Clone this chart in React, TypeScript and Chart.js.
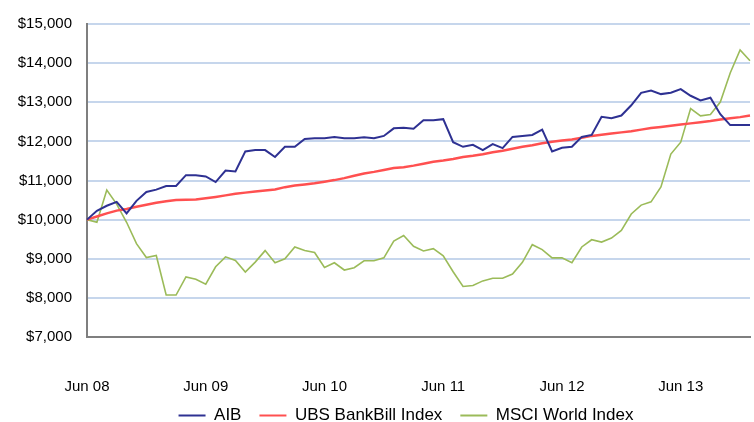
import React, { useEffect, useRef } from "react";
import { Chart, registerables } from "chart.js";

Chart.register(...registerables);

const MONTHS = ["Jan", "Feb", "Mar", "Apr", "May", "Jun", "Jul", "Aug", "Sep", "Oct", "Nov", "Dec"];
// Monthly categories Jun 08 .. Jan 14
const categories: string[] = [];
for (let k = 0; k < 68; k++) {
  const m = (5 + k) % 12;
  const y = 8 + Math.floor((5 + k) / 12);
  categories.push(`${MONTHS[m]} ${String(y).padStart(2, "0")}`);
}

const aib = [
  10000, 10227, 10354, 10455, 10160, 10480, 10707, 10766, 10859, 10859,
  11137, 11137, 11103, 10960, 11255, 11230, 11743, 11777, 11777, 11600,
  11861, 11861, 12063, 12080, 12080, 12114, 12080, 12080, 12105, 12080,
  12139, 12333, 12349, 12324, 12543, 12543, 12568, 11979, 11861, 11912,
  11777, 11928, 11827, 12114, 12140, 12164, 12299, 11743, 11836, 11861,
  12114, 12164, 12627, 12594, 12661, 12922, 13242, 13301, 13208, 13242,
  13335, 13166, 13048, 13116, 12695, 12417, 12417, 12417,
];

const ubsBankBill = [
  10000, 10080, 10160, 10230, 10270, 10330, 10380, 10430, 10470, 10500,
  10510, 10515, 10545, 10580, 10620, 10660, 10690, 10720, 10745, 10770,
  10830, 10870, 10900, 10930, 10970, 11010, 11060, 11120, 11180, 11220,
  11270, 11320, 11340, 11380, 11430, 11480, 11510, 11550, 11600, 11630,
  11670, 11720, 11760, 11810, 11860, 11900, 11950, 11990, 12020, 12050,
  12090, 12140, 12170, 12200, 12230, 12260, 12300, 12340, 12370, 12400,
  12430, 12460, 12490, 12520, 12560, 12590, 12620, 12660,
];

const msciWorld = [
  10000, 9933, 10758, 10396, 9933, 9385, 9032, 9082, 8072, 8072,
  8535, 8476, 8349, 8796, 9048, 8956, 8661, 8914, 9208, 8897,
  8998, 9301, 9210, 9158, 8779, 8897, 8712, 8771, 8947, 8947,
  9023, 9453, 9596, 9318, 9200, 9259, 9074, 8669, 8291, 8316,
  8434, 8501, 8501, 8611, 8910, 9360, 9234, 9023, 9023, 8897,
  9301, 9486, 9427, 9528, 9722, 10143, 10371, 10455, 10834, 11676,
  11979, 12838, 12653, 12686, 13006, 13747, 14337, 14059,
];

const seriesNames = ["AIB", "UBS BankBill Index", "MSCI World Index"];
const yMin = 7000;
const yMax = 15000;
const yStep = 1000;

const FONT = "'Liberation Sans', Arial, sans-serif";

// places the bottom legend box so that its row sits like the reference
const legendShift = {
  id: "legendShift",
  afterLayout(chart: any) {
    const lg = chart.legend;
    if (lg) {
      lg.left = 62;
      lg.top = 389;
      lg.bottom = 422;
      lg.height = 33;
    }
  },
};

export default function App() {
  const ref = useRef<HTMLCanvasElement | null>(null);

  useEffect(() => {
    document.body.style.margin = "0";
    const canvas = ref.current;
    if (!canvas) return;
    const chart = new Chart(canvas, {
      type: "line",
      data: {
        labels: categories,
        datasets: [
          {
            label: seriesNames[0],
            data: aib,
            borderColor: "#2e3192",
            backgroundColor: "#2e3192",
            borderWidth: 2,
          },
          {
            label: seriesNames[1],
            data: ubsBankBill,
            borderColor: "#ff5050",
            backgroundColor: "#ff5050",
            borderWidth: 2.5,
          },
          {
            label: seriesNames[2],
            data: msciWorld,
            borderColor: "#9bbb59",
            backgroundColor: "#9bbb59",
            borderWidth: 1.6,
          },
        ],
      },
      options: {
        responsive: false,
        animation: false,
        events: [],
        elements: {
          point: { radius: 0 },
          line: { tension: 0 },
        },
        layout: { padding: { top: 20, left: 0, right: 4, bottom: 0 } },
        scales: {
          x: {
            type: "category",
            offset: false,
            grid: { display: false, drawTicks: false },
            border: { display: true, color: "#7f7f7f", width: 2 },
            ticks: {
              autoSkip: false,
              maxRotation: 0,
              minRotation: 0,
              padding: 41,
              color: "#000",
              font: { family: FONT, size: 15 },
              callback: (_v: any, idx: number) =>
                categories[idx].startsWith("Jun") ? categories[idx] : "",
            },
            afterFit: (scale: any) => {
              scale.height = 60;
              scale.paddingLeft = 0;
              scale.paddingRight = 0;
            },
          },
          y: {
            min: yMin,
            max: yMax,
            grid: { color: "#c6d6ec", lineWidth: 2, drawTicks: false },
            border: { display: true, color: "#7f7f7f", width: 2 },
            ticks: {
              stepSize: yStep,
              padding: 15,
              color: "#000",
              font: { family: FONT, size: 15 },
              callback: (v: any) => "$" + Number(v).toLocaleString("en-US"),
            },
            afterFit: (scale: any) => {
              scale.width = 87;
            },
          },
        },
        plugins: {
          tooltip: { enabled: false },
          legend: {
            position: "bottom",
            maxHeight: 25,
            labels: {
              boxWidth: 27,
              boxHeight: 2,
              padding: 18,
              color: "#000",
              font: { family: FONT, size: 17 },
              generateLabels: (ch: any) =>
                Chart.defaults.plugins.legend.labels
                  .generateLabels(ch)
                  .map((it: any) => ({ ...it, lineWidth: 0, strokeStyle: "rgba(0,0,0,0)" })),
            },
          },
        },
      },
      plugins: [legendShift],
    });
    return () => chart.destroy();
  }, []);

  return <canvas ref={ref} width={754} height={422} style={{ display: "block" }} />;
}
